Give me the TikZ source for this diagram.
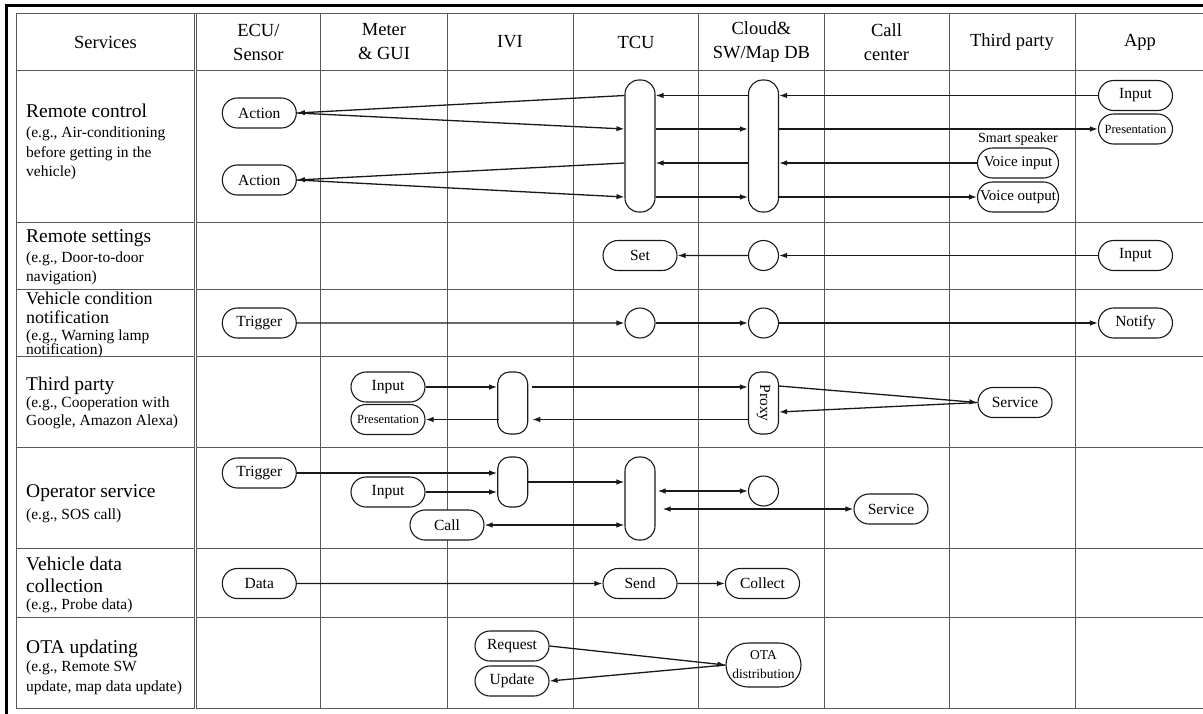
\documentclass[tikz,border=0pt]{standalone}
\usepackage{fontspec}
\setmainfont{Liberation Serif}
\usetikzlibrary{shapes.misc,arrows.meta,calc}

\newcommand{\setfs}[1]{\fontsize{#1pt}{#1pt}\selectfont}

\tikzset{
  gridline/.style={line width=1pt, draw=black!65},
  pill/.style={rounded rectangle, draw=black!90, fill=white, line width=1.1pt,
    minimum width=74pt, minimum height=30pt, inner sep=0pt, font=\setfs{15.5}},
  capsule/.style={draw=black!90, fill=white, line width=1.1pt, rounded corners=14pt,
    minimum width=30pt, inner sep=0pt},
  hub/.style={circle, draw=black!90, fill=white, line width=1.1pt, minimum size=30pt, inner sep=0pt},
  tip/.tip={Latex[length=8pt,width=5.5pt]},
  flow/.style={line width=1.3pt, draw=black!90, -tip},
  flowboth/.style={line width=1.3pt, draw=black!90, tip-tip},
  head/.style={font=\fontsize{18.5pt}{24pt}\selectfont, align=center, inner sep=0pt},
  rtitle/.style={font=\setfs{19.5}, anchor=west, inner sep=0pt, text height=13.6pt, text depth=2pt},
  rnote/.style={font=\setfs{15.5}, anchor=west, inner sep=0pt, text height=10.9pt, text depth=1.6pt},
}

\begin{document}
\begin{tikzpicture}[x=1pt,y=-1pt]
\useasboundingbox (0,0) rectangle (1203,713);

% outer frame
\draw[line width=3pt] (6.5,714) -- (6.5,5.5) -- (1204,5.5);

% table grid
\foreach \yy in {13.5,70.7,222,289.3,356.7,447.5,548.5,617.5,708.5}
  \draw[gridline] (16,\yy) -- (1204,\yy);
\foreach \xx in {16,320.7,447.3,573,698.7,824,949.3,1075}
  \draw[gridline] (\xx,13.5) -- (\xx,708.5);
\draw[gridline, double=white, double distance=1.2pt, line width=0.8pt] (195.5,13.5) -- (195.5,708.5);

% header
\node[head] (hS) at (105.5,42) {Services};
\node[head] (hE) at (258.4,42) {ECU/\\Sensor};
\node[head] (hM) at (384,42) {Meter\\\& GUI};
\node[head] (hI) at (510,42) {IVI};
\node[head] (hT) at (636,42) {TCU};
\node[head] (hC) at (761.4,42) {Cloud\&\\SW/Map DB};
\node[head] (hK) at (886.5,42) {Call\\center};
\node[head] (hP) at (1012,42) {Third party};
\node[head] (hA) at (1140,42) {App};

% service column
\node[rtitle] (t1a) at (26,112) {Remote control};
\node[rnote] (t1b) at (26,133) {(e.g., Air-conditioning};
\node[rnote] (t1c) at (26,153) {before getting in the};
\node[rnote] (t1d) at (26,172) {vehicle)};
\node[rtitle] (t2a) at (26,237) {Remote settings};
\node[rnote] (t2b) at (26,258) {(e.g., Door-to-door};
\node[rnote] (t2c) at (26,277) {navigation)};
\node[rtitle, font=\setfs{18}] (t3a) at (26,299) {Vehicle condition};
\node[rtitle, font=\setfs{18}] (t3b) at (26,317.5) {notification};
\node[rnote] (t3c) at (26,335.5) {(e.g., Warning lamp};
\node[rnote] (t3d) at (26,349.5) {notification)};
\node[rtitle] (t4a) at (26,385) {Third party};
\node[rnote] (t4b) at (26,403) {(e.g., Cooperation with};
\node[rnote] (t4c) at (26,421) {Google, Amazon Alexa)};
\node[rtitle] (t5a) at (26,492) {Operator service};
\node[rnote] (t5b) at (26,515) {(e.g., SOS call)};
\node[rtitle] (t6a) at (26,565) {Vehicle data};
\node[rtitle] (t6b) at (26,587) {collection};
\node[rnote] (t6c) at (26,605) {(e.g., Probe data)};
\node[rtitle] (t7a) at (26,648) {OTA updating};
\node[rnote] (t7b) at (26,667) {(e.g., Remote SW};
\node[rnote] (t7c) at (26,687) {update, map data update)};

% ---- Remote control
\node[pill] (a1) at (259.3,113) {Action};
\node[pill] (a2) at (259.3,180) {Action};
\node[capsule, minimum height=132pt] (tc1) at (640,146) {};
\node[capsule, minimum height=132pt] (cc1) at (763.5,146) {};
\node[pill] (in1) at (1135.5,95.5) {Input};
\node[pill, font=\setfs{12.5}] (pr1) at (1135.5,129) {Presentation};
\node[font=\setfs{14}, inner sep=0pt] (ssl) at (1018,139.5) {Smart speaker};
\node[pill, minimum width=81pt, font=\setfs{15}] (vi) at (1018,163) {Voice input};
\node[pill, minimum width=81pt, font=\setfs{15}] (vo) at (1018,197) {Voice output};

\draw[flow] (in1.west) -- (cc1.east |- in1.west);
\draw[flow] (cc1.west |- in1.west) -- (tc1.east |- in1.west);
\draw[flow] (tc1.east |- pr1.west) -- (cc1.west |- pr1.west);
\draw[flow] (cc1.east |- pr1.west) -- (pr1.west);
\draw[flow] (vi.west) -- (cc1.east |- vi.west);
\draw[flow] (cc1.west |- vi.west) -- (tc1.east |- vi.west);
\draw[flow] (tc1.east |- vo.west) -- (cc1.west |- vo.west);
\draw[flow] (cc1.east |- vo.west) -- (vo.west);
\draw[flow] (tc1.west |- in1.west) -- (a1.east);
\draw[flow] (a1.east) -- (tc1.west |- pr1.west);
\draw[flow] (tc1.west |- vi.west) -- (a2.east);
\draw[flow] (a2.east) -- (tc1.west |- vo.west);

% ---- Remote settings
\node[pill] (set) at (640,255.5) {Set};
\node[hub] (c2) at (763.5,255.5) {};
\node[pill] (in2) at (1135.5,255.5) {Input};
\draw[flow] (in2) -- (c2);
\draw[flow] (c2) -- (set);

% ---- Vehicle condition notification
\node[pill] (trg1) at (259.3,323) {Trigger};
\node[hub] (c3) at (640,323) {};
\node[hub] (c4) at (763.5,323) {};
\node[pill] (ntf) at (1135.5,323) {Notify};
\draw[flow] (trg1) -- (c3);
\draw[flow] (c3) -- (c4);
\draw[flow] (c4) -- (ntf);

% ---- Third party
\node[pill] (in3) at (388,387) {Input};
\node[pill, font=\setfs{12.5}] (pr3) at (388,419.5) {Presentation};
\node[capsule, minimum height=62pt, rounded corners=12pt] (ivi3) at (512.7,403) {};
\node[capsule, minimum height=62pt, rounded corners=12pt] (proxy) at (763.5,403) {};
\node[rotate=-90, font=\setfs{15.5}, inner sep=0pt] (proxyt) at (proxy.center) {Proxy};
\node[pill] (svc3) at (1015,402.5) {Service};
\draw[flow] (in3.east) -- (ivi3.west |- in3.east);
\draw[flow] ([xshift=4pt]ivi3.east |- in3.east) -- (proxy.west |- in3.east);
\draw[flow] (proxy.west |- pr3.east) -- ([xshift=4pt]ivi3.east |- pr3.east);
\draw[flow] ([xshift=2pt]ivi3.west |- pr3.east) -- (pr3.east);
\draw[flow] ($(proxy.east)+(0,-17)$) -- (svc3.west);
\draw[flow] (svc3.west) -- ($(proxy.east)+(0,9)$);

% ---- Operator service
\node[pill] (trg5) at (259.3,473) {Trigger};
\node[pill] (in5) at (388,492) {Input};
\node[pill] (call) at (447,525) {Call};
\node[capsule, minimum height=50pt, rounded corners=12pt] (ivi5) at (512.7,482) {};
\node[capsule, minimum height=83pt] (tc5) at (640,498.5) {};
\node[hub] (c5) at (763.5,491) {};
\node[pill] (svc5) at (891,509) {Service};
\draw[flow] (trg5.east) -- (ivi5.west |- trg5.east);
\draw[flow] (in5.east) -- (ivi5.west |- in5.east);
\draw[flow] (ivi5.east) -- (tc5.west |- ivi5.east);
\draw[flowboth] ([xshift=2pt]tc5.east |- c5.west) -- (c5.west);
\draw[flowboth] ([xshift=7pt]tc5.east |- svc5.west) -- (svc5.west);
\draw[flowboth] (call.east) -- (tc5.west |- call.east);

% ---- Vehicle data collection
\node[pill] (data) at (259.3,583.5) {Data};
\node[pill] (send) at (640,583.5) {Send};
\node[pill] (coll) at (762.5,583.5) {Collect};
\draw[flow] (data) -- (send);
\draw[flow] (send) -- (coll);

% ---- OTA updating
\node[pill] (req) at (512,646) {Request};
\node[pill] (upd) at (512,681) {Update};
\node[pill, minimum width=75pt, minimum height=44pt, align=center,
  font=\fontsize{13.5pt}{19pt}\selectfont] (ota) at (763.5,665) {OTA\\distribution};
\draw[flow] (req.east) -- (ota.west);
\draw[flow] (ota.west) -- (upd.east);
\end{tikzpicture}
\end{document}
